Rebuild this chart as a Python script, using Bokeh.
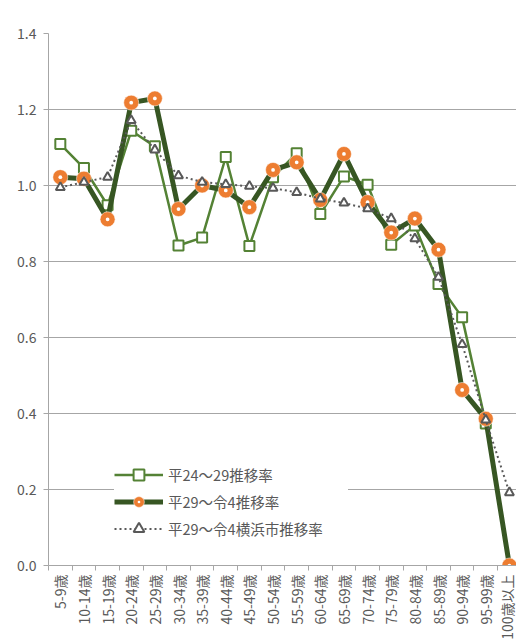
import math
from bokeh.plotting import figure
from bokeh.models import (FixedTicker, Range1d, Legend, LegendItem, ColumnDataSource)
from bokeh.embed import file_html
from bokeh.resources import INLINE

categories = ["5-9歳", "10-14歳", "15-19歳", "20-24歳", "25-29歳", "30-34歳", "35-39歳",
              "40-44歳", "45-49歳", "50-54歳", "55-59歳", "60-64歳", "65-69歳", "70-74歳",
              "75-79歳", "80-84歳", "85-89歳", "90-94歳", "95-99歳", "100歳以上"]

s1_name = "平24～29推移率"
s1_values = [1.109, 1.046, 0.948, 1.144, 1.103, 0.842, 0.863, 1.075, 0.841, 1.022,
             1.085, 0.925, 1.024, 1.002, 0.844, 0.895, 0.741, 0.653, 0.374]

s2_name = "平29～令4推移率"
s2_values = [1.022, 1.018, 0.911, 1.218, 1.229, 0.938, 1.000, 0.987, 0.943, 1.041,
             1.061, 0.962, 1.083, 0.956, 0.876, 0.913, 0.831, 0.462, 0.386, 0.0]

s3_name = "平29～令4横浜市推移率"
s3_values = [0.995, 1.009, 1.022, 1.171, 1.094, 1.026, 1.009, 1.003, 0.998, 0.993,
             0.982, 0.965, 0.954, 0.939, 0.913, 0.860, 0.759, 0.582, 0.383, 0.192]

y_ticks = [0.0, 0.2, 0.4, 0.6, 0.8, 1.0, 1.2, 1.4]

FONT = "Noto Sans CJK JP"
TXT = "#595959"
GRID = "#a6a6a6"

p = figure(width=516, height=642, output_backend="svg", toolbar_location=None,
           x_range=Range1d(-0.5, 19.3), y_range=Range1d(0, 1.4),
           min_border_left=48, min_border_right=0, min_border_top=33, min_border_bottom=76)
p.outline_line_color = None
p.background_fill_color = "white"

xs = list(range(len(categories)))

src1 = ColumnDataSource(dict(x=xs[:len(s1_values)], y=s1_values))
src2 = ColumnDataSource(dict(x=xs[:len(s2_values)], y=s2_values))
src3 = ColumnDataSource(dict(x=xs[:len(s3_values)], y=s3_values))

c1 = "#548235"
c2 = "#375623"
orange = "#ED7D31"
gray = "#595959"

l1 = p.line("x", "y", source=src1, line_color=c1, line_width=2.5)
m1 = p.scatter("x", "y", source=src1, marker="square", size=10, fill_color="white",
               line_color=c1, line_width=2)

l2 = p.line("x", "y", source=src2, line_color=c2, line_width=5)
m2 = p.scatter("x", "y", source=src2, marker="circle_dot", size=15, fill_color=orange,
               line_color="white", line_width=0.5)

l3 = p.line("x", "y", source=src3, line_color=gray, line_width=2, line_dash="2 3")
m3 = p.scatter("x", "y", source=src3, marker="triangle", size=9, fill_color="white",
               line_color=gray, line_width=2)

# axes
p.xaxis.ticker = FixedTicker(ticks=xs, minor_ticks=[i - 0.5 for i in range(len(categories) + 1)])
p.xaxis.major_label_overrides = {i: c for i, c in enumerate(categories)}
p.xaxis.major_label_orientation = math.pi / 2
p.xaxis.major_tick_line_color = None
p.xaxis.major_tick_out = 5
p.xaxis.major_tick_in = 0
p.xaxis.minor_tick_line_color = GRID
p.xaxis.minor_tick_out = 5
p.xaxis.minor_tick_in = 0
p.xaxis.axis_line_color = GRID
p.xaxis.major_label_text_font = FONT
p.xaxis.major_label_text_font_size = "14px"
p.xaxis.major_label_text_color = TXT
p.xaxis.major_label_standoff = 4

p.yaxis.ticker = FixedTicker(ticks=y_ticks)
p.yaxis.major_label_overrides = {t: f"{t:.1f}" for t in y_ticks}
p.yaxis.axis_line_color = GRID
p.yaxis.major_tick_line_color = GRID
p.yaxis.major_tick_out = 5
p.yaxis.major_tick_in = 0
p.yaxis.minor_tick_line_color = None
p.yaxis.major_label_text_font = FONT
p.yaxis.major_label_text_font_size = "14px"
p.yaxis.major_label_text_color = TXT
p.yaxis.major_label_standoff = 7

p.xgrid.grid_line_color = None
p.ygrid.ticker = FixedTicker(ticks=y_ticks)
p.ygrid.grid_line_color = GRID
p.ygrid.grid_line_width = 1

legend = Legend(items=[
    LegendItem(label=s1_name, renderers=[l1, m1]),
    LegendItem(label=s2_name, renderers=[l2, m2]),
    LegendItem(label=s3_name, renderers=[l3, m3]),
], location=(66, 23))
legend.padding = 0
legend.border_line_color = None
legend.background_fill_color = "white"
legend.background_fill_alpha = 1
legend.glyph_width = 49
legend.glyph_height = 27
legend.label_height = 27
legend.label_width = 180
legend.spacing = 0
legend.label_standoff = 5
legend.label_text_font = FONT
legend.label_text_font_size = "14.5px"
legend.label_text_color = TXT
legend.margin = 0
p.add_layout(legend, "center")

open("out.html", "w").write(file_html(p, INLINE))
